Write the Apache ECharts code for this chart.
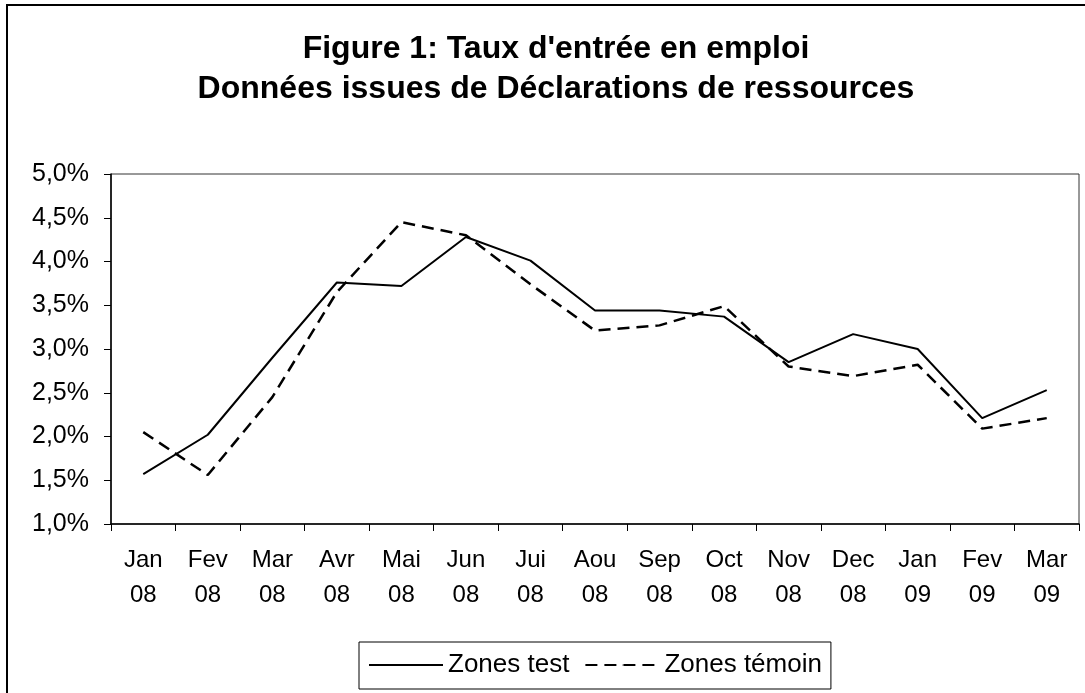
<!DOCTYPE html>
<html>
<head>
<meta charset="utf-8">
<script src="https://cdn.jsdelivr.net/npm/echarts@6/dist/echarts.min.js"></script>
<style>
  html, body { margin: 0; padding: 0; background: #fff; }
  #chart { width: 1085px; height: 693px; }
</style>
</head>
<body>
<div id="chart"></div>
<script>
/* global echarts */
const months = ['Jan 08', 'Fev 08', 'Mar 08', 'Avr 08', 'Mai 08', 'Jun 08', 'Jui 08', 'Aou 08',
    'Sep 08', 'Oct 08', 'Nov 08', 'Dec 08', 'Jan 09', 'Fev 09', 'Mar 09'];
const zones_test = [1.57, 2.02, 2.9, 3.76, 3.72, 4.28, 4.01, 3.44, 3.44, 3.37, 2.85, 3.17, 3.0, 2.21, 2.53];
const zones_temoin = [2.05, 1.56, 2.45, 3.65, 4.45, 4.3, 3.74, 3.21, 3.27, 3.49, 2.8, 2.69, 2.82, 2.09, 2.21];
const title_lines = ["Figure 1: Taux d'entrée en emploi", 'Données issues de Déclarations de ressources'];

const font = '"Liberation Sans", Arial, sans-serif';
const chart = echarts.init(document.getElementById('chart'), null, { renderer: 'canvas' });

const option = {
    animation: false,
    backgroundColor: '#fff',
    textStyle: { fontFamily: font, color: '#000' },
    title: {
        text: title_lines.join('\n'),
        left: 556,
        textAlign: 'center',
        top: 29,
        padding: 0,
        textStyle: {
            fontFamily: font,
            fontSize: 32,
            fontWeight: 'bold',
            color: '#000',
            lineHeight: 40
        }
    },
    // chart frame: only its left and top sides fall inside the picture
    graphic: [
        {
            type: 'rect',
            shape: { x: 7, y: 5, width: 2000, height: 2000 },
            style: { fill: 'none', stroke: '#000', lineWidth: 2 },
            silent: true
        }
    ],
    legend: {
        left: 359,
        top: 642,
        itemWidth: 74,
        itemHeight: 1,
        itemGap: 15,
        padding: [10, 9, 11, 9],
        borderColor: '#000',
        borderWidth: 1,
        borderRadius: 0,
        textStyle: { fontFamily: font, fontSize: 26, color: '#000' },
        data: ['Zones test', 'Zones témoin']
    },
    grid: {
        left: 111,
        right: 6,
        top: 174,
        bottom: 169,
        show: true,
        borderColor: '#333',
        borderWidth: 1
    },
    xAxis: {
        type: 'category',
        data: months,
        boundaryGap: true,
        axisLine: { lineStyle: { color: '#000', width: 1.5 } },
        axisTick: { show: true, length: 7, inside: false, lineStyle: { color: '#000' } },
        axisLabel: {
            interval: 0,
            margin: 19,
            fontSize: 24,
            lineHeight: 35,
            color: '#000',
            fontFamily: font,
            formatter: v => v.replace(' ', '\n')
        },
        splitLine: { show: false }
    },
    yAxis: {
        type: 'value',
        min: 1,
        max: 5,
        interval: 0.5,
        axisLine: { show: true, lineStyle: { color: '#000', width: 1.5 } },
        axisTick: { show: true, length: 7, lineStyle: { color: '#000' } },
        axisLabel: {
            margin: 22,
            fontSize: 25,
            color: '#000',
            fontFamily: font,
            formatter: v => v.toFixed(1).replace('.', ',') + '%'
        },
        splitLine: { show: false }
    },
    series: [
        {
            name: 'Zones test',
            type: 'line',
            data: zones_test,
            symbol: 'none',
            lineStyle: { color: '#000', width: 2, type: 'solid' },
            itemStyle: { color: '#000' }
        },
        {
            name: 'Zones témoin',
            type: 'line',
            data: zones_temoin,
            symbol: 'none',
            lineStyle: { color: '#000', width: 2.5, type: [12, 7] },
            itemStyle: { color: '#000' }
        }
    ]
};

chart.setOption(option);
</script>
</body>
</html>
